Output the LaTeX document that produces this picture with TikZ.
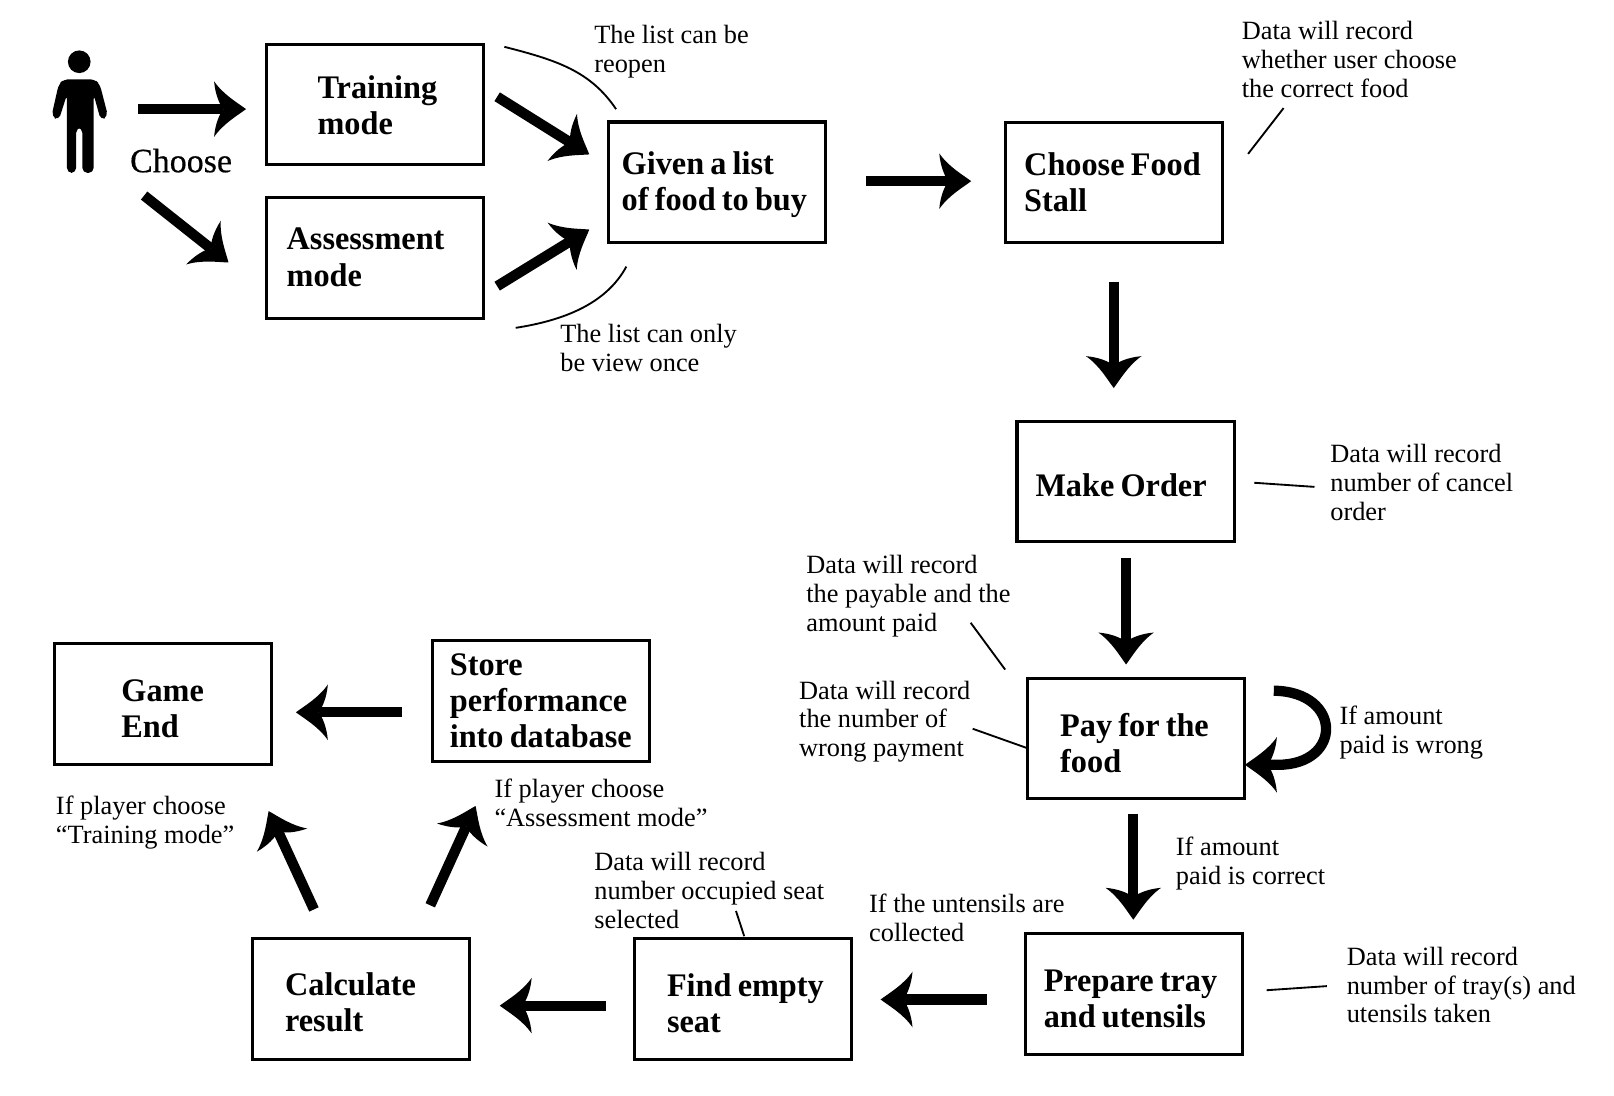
\documentclass[tikz,border=0pt]{standalone}
\usepackage{fontspec}
\setmainfont{Liberation Serif}[BoldFeatures={FakeStretch=0.98}]
\usetikzlibrary{arrows.meta}
\pgfdeclarearrow{
  name=curvetip,
  setup code={
    \pgfarrowssettipend{0pt}
    \pgfarrowssetlineend{-11pt}
    \pgfarrowssetvisualbackend{-11pt}
    \pgfarrowssetbackend{-15.5pt}
    \pgfarrowshullpoint{0pt}{0pt}
    \pgfarrowshullpoint{-15.5pt}{13.5pt}
    \pgfarrowshullpoint{-15.5pt}{-13.5pt}
  },
  drawing code={
    \pgfpathmoveto{\pgfpoint{0pt}{0pt}}
    \pgfpathcurveto{\pgfpoint{-4pt}{3pt}}{\pgfpoint{-11pt}{7pt}}{\pgfpoint{-15.5pt}{13.5pt}}
    \pgfpathcurveto{\pgfpoint{-15pt}{7.5pt}}{\pgfpoint{-13pt}{2.5pt}}{\pgfpoint{-11pt}{0pt}}
    \pgfpathcurveto{\pgfpoint{-13pt}{-2.5pt}}{\pgfpoint{-15pt}{-7.5pt}}{\pgfpoint{-15.5pt}{-13.5pt}}
    \pgfpathcurveto{\pgfpoint{-11pt}{-7pt}}{\pgfpoint{-4pt}{-3pt}}{\pgfpoint{0pt}{0pt}}
    \pgfpathclose
    \pgfusepathqfill
  },
  defaults={}
}
\newcommand{\boxtext}[3]{\hspace*{#1}\raisebox{-#2}[0pt][0pt]{\spaceskip=3pt\relax\begin{tabular}[c]{@{}l@{}}#3\end{tabular}}}
\tikzset{
  x=0.5pt,y=-0.5pt,
  flowbox/.style={draw=black,line width=1.5pt,fill=white,minimum width=105.5pt,minimum height=58.5pt,
    inner sep=0pt,text width=105.5pt,align=left,font=\fontsize{16}{17.5}\selectfont\bfseries},
  note/.style={anchor=west,inner sep=0pt,align=left,font=\fontsize{12.8}{14}\selectfont},
  flow/.style={line width=5pt,-{curvetip[]}},
  thinline/.style={line width=0.9pt}
}
\begin{document}
\begin{tikzpicture}
\useasboundingbox (0,0) rectangle (1568,1064.7);
% person
\coordinate (person) at (77,110);
\fill[black] (77,60) ellipse [x radius=11,y radius=11];
\fill[black,rounded corners=2.5pt] (62,77) -- (92,77) -- (97,82) -- (105,113) -- (98,117) -- (91,92) -- (91,168) -- (80,168) -- (80,124) -- (74,124) -- (74,168) -- (65,168) -- (65,92) -- (57,117) -- (50,113) -- (57,82) -- cycle;
% boxes
\node[flowbox] (training) at (364,101.5) {\boxtext{25pt}{6.5pt}{Training\\mode}};
\node[flowbox] (assessment) at (364,250.5) {\boxtext{10pt}{5.75pt}{Assessment\\mode}};
\node[flowbox] (given) at (696.5,177) {\boxtext{6.5pt}{6pt}{Given a list\\of food to buy}};
\node[flowbox] (choose) at (1082.5,177.5) {\boxtext{9pt}{6pt}{Choose Food\\Stall}};
\node[flowbox] (make) at (1093.5,468) {\boxtext{9pt}{8pt}{Make Order}};
\node[flowbox] (pay) at (1103.5,717.5) {\boxtext{16pt}{8.5pt}{Pay for the\\food}};
\node[flowbox] (prepare) at (1101.5,965.5) {\boxtext{9pt}{8.5pt}{Prepare tray\\and utensils}};
\node[flowbox] (find) at (721.5,970.5) {\boxtext{16pt}{8.5pt}{Find empty\\seat}};
\node[flowbox] (calc) at (350.5,970.5) {\boxtext{16pt}{8pt}{Calculate\\result}};
\node[flowbox] (store) at (525.5,681) {\boxtext{8.5pt}{5.75pt}{Store\\performance\\into database}};
\node[flowbox] (game) at (158.5,684) {\boxtext{32.5pt}{8.5pt}{Game\\End}};
% labels
\node[note,font=\fontsize{16.5}{17.5}\selectfont\addfontfeature{FakeBold=0.5}] (lchoose) at (126,156) {Choose};
\node[note] (lreopen) at (577,50) {The list can be\\reopen};
\node[note] (lonce) at (544,338) {The list can only\\be view once};
\node[note] (lfood) at (1206,58) {Data will record\\whether user choose\\the correct food};
\node[note] (lcancel) at (1292,468.5) {Data will record\\number of cancel\\order};
\node[note] (lpayable) at (783,579) {Data will record\\the payable and the\\amount paid};
\node[note] (lwrongpay) at (776,701) {Data will record\\the number of\\wrong payment};
\node[note] (lwrong) at (1301,712) {If amount\\paid is wrong};
\node[note] (lcorrect) at (1142,839) {If amount\\paid is correct};
\node[note] (lcollected) at (844,892) {If the untensils are\\collected};
\node[note] (ltray) at (1308,957) {Data will record\\number of tray(s) and\\utensils taken};
\node[note] (lseat) at (577,865) {Data will record\\number occupied seat\\selected};
\node[note] (lassess) at (480,780) {If player choose\\“Assessment mode”};
\node[note] (ltrain) at (54,799) {If player choose\\“Training mode”};
% flow arrows
\draw[flow] ([shift={(57,-4)}]person) -- ([shift={(-18,4.5)}]training.west);
\draw[flow] ([shift={(63,80)}]person) -- ([shift={(-35,4.5)}]assessment.west);
\draw[flow] ([shift={(12,-7.5)}]training.east) -- ([shift={(-17,-27)}]given.west);
\draw[flow] ([shift={(12,27.5)}]assessment.east) -- ([shift={(-17,46)}]given.west);
\draw[flow] ([shift={(38,-1)}]given.east) -- ([shift={(-32,-1.5)}]choose.west);
\draw[flow] ([shift={(-0.5,36)}]choose.south) -- ([shift={(-11.5,-31)}]make.north);
\draw[flow] ([shift={(0.5,14)}]make.south) -- ([shift={(-9.5,-12)}]pay.north);
\draw[flow] ([shift={(-2.5,13)}]pay.south) -- ([shift={(-0.5,-12)}]prepare.north);
\draw[flow] ([shift={(-36,5.5)}]prepare.west) -- ([shift={(27,0.5)}]find.east);
\draw[flow] ([shift={(-26,6.5)}]find.west) -- ([shift={(28,6.5)}]calc.east);
\draw[flow] ([shift={(-28,11)}]store.west) -- ([shift={(22,8)}]game.east);
\draw[flow] ([shift={(-45.5,-27)}]calc.north) -- ([shift={(102.5,44)}]game.south);
\draw[flow] ([shift={(67.5,-31)}]calc.north) -- ([shift={(-63.5,42)}]store.south);
\draw[flow] ([shift={(27,-46.5)}]pay.east) .. controls +(67,1) and +(63,0) .. ([shift={(31,25.5)}]pay.east) -- ([shift={(-1,25.5)}]pay.east);
% annotation lines
\draw[thinline] ([shift={(19,4)}]training.north east) .. controls +(51,13) and +(-25,-37) .. ([shift={(9,-11)}]given.north west);
\draw[thinline] ([shift={(30,8)}]assessment.south east) .. controls +(45,-7) and +(-20,37) .. ([shift={(19,22)}]given.south west);
\draw[thinline] ([shift={(23,32)}]choose.north east) -- ([shift={(41,47)}]lfood.west);
\draw[thinline] ([shift={(18,1)}]make.east) -- ([shift={(-15,4.5)}]lcancel.west);
\draw[thinline] ([shift={(160,26)}]lpayable.west) -- ([shift={(-20,-7)}]pay.north west);
\draw[thinline] ([shift={(169,7)}]lwrongpay.west) -- ([shift={(2,9.5)}]pay.west);
\draw[thinline] ([shift={(22,-3.5)}]prepare.east) -- ([shift={(-19,1)}]ltray.west);
\draw[thinline] ([shift={(138,20)}]lseat.west) -- ([shift={(1.5,-1)}]find.north);
\end{tikzpicture}
\end{document}
